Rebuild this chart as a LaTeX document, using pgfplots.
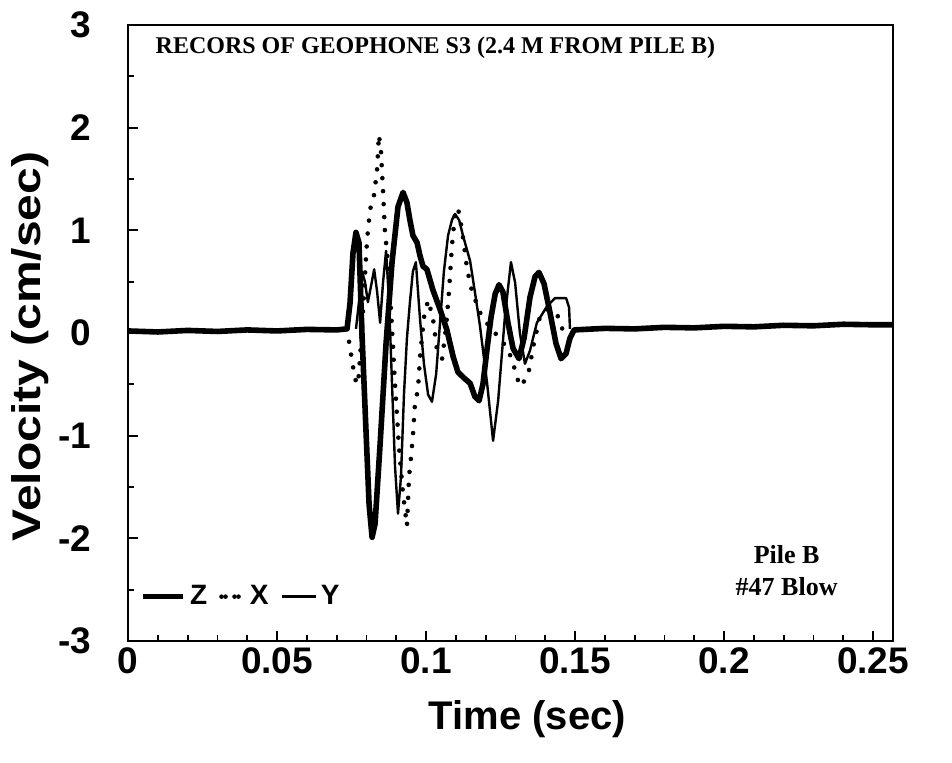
\documentclass[border=0pt]{standalone}
\usepackage{fontspec}
\setmainfont{Liberation Sans}
\newfontfamily\timesfont{Liberation Serif}
\usepackage{pgfplots}
\pgfplotsset{compat=1.18}
\begin{document}
\begin{tikzpicture}
\path[use as bounding box] (-64pt,-61pt) rectangle (412pt,320.5pt);
\begin{axis}[
  at={(0,0)}, anchor=south west,
  scale only axis, width=382.5pt, height=308pt,
  xmin=0, xmax=0.2567, ymin=-3, ymax=3,
  xtick={0,0.05,0.1,0.15,0.2,0.25},
  xticklabels={0,0.05,0.1,0.15,0.2,0.25},
  ytick={-3,-2,-1,0,1,2,3},
  yticklabels={-3,-2,-1,0,1,2,3},
  scaled x ticks=false,
  minor x tick num=4, minor y tick num=1,
  tick pos=left, tick align=inside,
  major tick length=5pt, minor tick length=3pt,
  axis line style={line width=1.1pt},
  every tick/.style={line width=0.9pt, black},
  ticklabel style={font=\bfseries\fontsize{18.5}{21}\selectfont},
  yticklabel style={xshift=-15pt},
  xlabel={Time (sec)},
  ylabel={\scalebox{1.2}[1]{Velocity (cm/sec)}},
  label style={font=\bfseries\fontsize{20}{24}\selectfont},
  xlabel style={at={([yshift=-39pt]axis description cs:0.522,0)}, anchor=center},
  ylabel style={at={([xshift=-49pt]axis description cs:0,0.478)}, anchor=center},
  legend style={at={(rel axis cs:0.008,0.072)}, anchor=west, draw=none, fill=none,
    font=\bfseries\fontsize{14}{16}\selectfont, legend columns=3,
    /tikz/every even column/.append style={column sep=4pt}},
  legend cell align=left,
]
\addplot[black, line width=2.8pt, line join=round,
  legend image code/.code={\draw[black, line width=2.8pt] (0pt,0pt) -- (20pt,0pt);}] coordinates {
(0,0.02) (0.01,0.01) (0.02,0.025) (0.03,0.015) (0.04,0.03) (0.05,0.02) (0.06,0.035) (0.07,0.03)
(0.0735,0.04) (0.0745,0.29) (0.0755,0.78) (0.0765,0.98) (0.0775,0.88) (0.0785,0.0) (0.0799,-0.98)
(0.0809,-1.67) (0.0819,-1.99) (0.0829,-1.86) (0.0846,-1.08) (0.0866,-0.1) (0.0886,0.69) (0.0906,1.23)
(0.0923,1.37) (0.0936,1.27) (0.0946,1.1) (0.0956,0.95) (0.0970,0.88) (0.0980,0.75) (0.0990,0.65)
(0.1003,0.62) (0.1023,0.42) (0.1047,0.23) (0.1070,0.03) (0.1091,-0.23) (0.1107,-0.38) (0.1128,-0.44)
(0.1148,-0.49) (0.1164,-0.62) (0.1178,-0.66) (0.1191,-0.5) (0.1205,-0.15) (0.1218,0.15) (0.1232,0.38)
(0.1245,0.47) (0.1258,0.4) (0.1275,0.1) (0.1292,-0.15) (0.1312,-0.25) (0.1329,-0.05) (0.1349,0.35)
(0.1366,0.55) (0.1379,0.59) (0.1396,0.48) (0.1416,0.2) (0.1436,-0.1) (0.1453,-0.25) (0.1470,-0.2)
(0.1483,-0.05) (0.1497,0.03) (0.16,0.045) (0.17,0.04) (0.18,0.055) (0.19,0.05) (0.20,0.065)
(0.21,0.06) (0.22,0.075) (0.23,0.07) (0.24,0.085) (0.25,0.08) (0.2567,0.08)
};
\addlegendentry{Z}
\addplot[black, line width=2.3pt, line cap=round, dash pattern=on 0pt off 6.5pt,
  legend image code/.code={\draw[black, line width=2.3pt, line cap=round, dash pattern=on 0pt off 6.5pt] (2pt,0pt) -- (9pt,0pt); \path (0pt,0pt) -- (11pt,0pt);}] coordinates {
(0.0735,0.04) (0.0748,-0.2) (0.0762,-0.45) (0.0772,-0.5) (0.0782,-0.1) (0.0792,0.39) (0.0802,0.9)
(0.0812,1.2) (0.0826,1.35) (0.0836,1.6) (0.0842,1.93) (0.0849,1.76) (0.0856,1.37) (0.0862,1.0)
(0.0872,0.69) (0.0883,0.2) (0.0896,-0.5) (0.0909,-1.1) (0.0923,-1.57) (0.0936,-1.88) (0.0943,-1.4)
(0.0950,-1.2) (0.0956,-1.0) (0.0963,-0.69) (0.0973,-0.55) (0.0980,-0.23) (0.0993,0.15) (0.1007,0.32)
(0.1023,0.15) (0.1037,-0.17) (0.1054,-0.25) (0.1067,0.05) (0.1077,0.4) (0.1087,0.85) (0.1097,1.15)
(0.1107,1.22) (0.1121,1.0) (0.1138,0.62) (0.1154,0.41) (0.1181,0.2) (0.1215,0.05) (0.1248,-0.05)
(0.1272,-0.15) (0.1289,-0.26) (0.1302,-0.4) (0.1315,-0.52) (0.1329,-0.47) (0.1342,-0.42)
(0.1362,-0.1) (0.1383,0.17) (0.1406,0.23) (0.1440,0.18) (0.1460,0.02)
};
\addlegendentry{X}
\addplot[black, line width=1.2pt, line join=round,
  legend image code/.code={\draw[black, line width=1.2pt] (0pt,0pt) -- (17pt,0pt);}] coordinates {
(0.0765,0.04) (0.0775,0.3) (0.0785,0.6) (0.0795,0.5) (0.0805,0.3) (0.0815,0.45) (0.0826,0.62)
(0.0836,0.4) (0.0846,0.1) (0.0856,0.5) (0.0866,0.8) (0.0876,0.3) (0.0886,-0.5) (0.0896,-1.3)
(0.0906,-1.76) (0.0916,-1.4) (0.0926,-0.6) (0.0936,-0.05) (0.0946,0.3) (0.0956,0.6) (0.0966,0.69)
(0.0980,0.13) (0.0993,-0.3) (0.1007,-0.6) (0.1020,-0.67) (0.1034,-0.4) (0.1047,0.1) (0.1060,0.6)
(0.1074,0.95) (0.1087,1.1) (0.1097,1.16) (0.1111,1.1) (0.1124,0.95) (0.1148,0.7) (0.1164,0.4)
(0.1181,0.07) (0.1205,-0.49) (0.1225,-1.05) (0.1242,-0.66) (0.1265,0.17) (0.1285,0.69) (0.1299,0.49)
(0.1315,0.0) (0.1332,-0.3) (0.1349,-0.17) (0.1372,0.1) (0.1406,0.26) (0.1433,0.34) (0.1470,0.34)
(0.1480,0.25) (0.1483,0.04)
};
\addlegendentry{Y}
\node[anchor=west, font=\timesfont\bfseries\fontsize{12}{14}\selectfont] at (rel axis cs:0.027,0.963) {RECORS OF GEOPHONE S3 (2.4 M FROM PILE B)};
\node[align=center, font=\timesfont\bfseries\fontsize{13}{16}\selectfont] at (rel axis cs:0.861,0.114) {Pile B\\\#47 Blow};
\end{axis}
\end{tikzpicture}
\end{document}
